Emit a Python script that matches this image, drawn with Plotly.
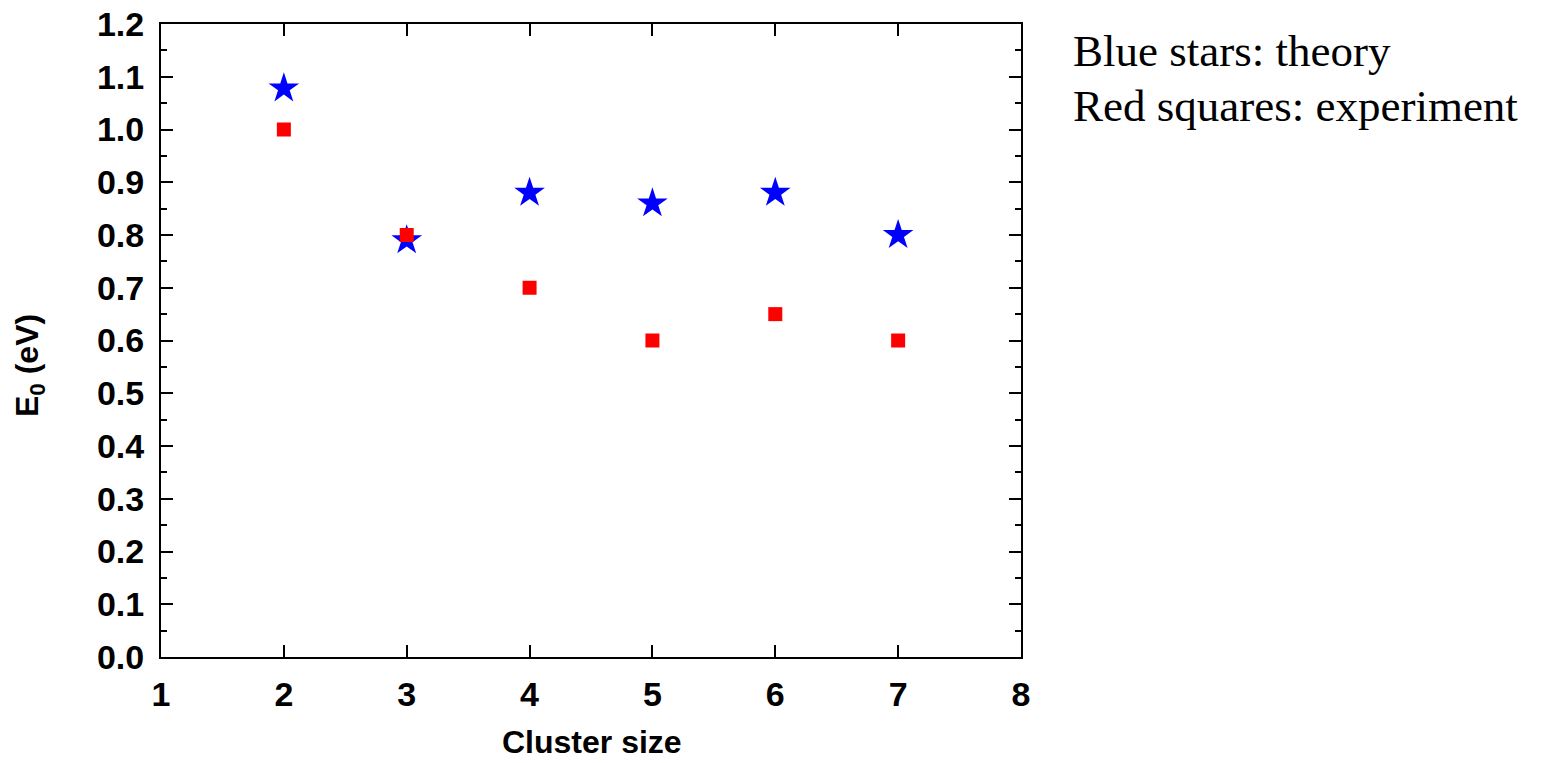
import plotly.graph_objects as go

cluster_size = [2, 3, 4, 5, 6, 7]
theory = [1.078, 0.79, 0.88, 0.86, 0.88, 0.80]
experiment = [1.00, 0.80, 0.70, 0.60, 0.65, 0.60]
notes = ["Blue stars: theory", "Red squares: experiment"]
x_title = "Cluster size"
y_title = "E<sub>0</sub> (eV)"

fig = go.Figure()
fig.add_trace(go.Scatter(x=cluster_size, y=theory, mode="markers",
                         marker=dict(symbol="star", size=23, color="#0000ff", line=dict(width=0)),
                         name="theory"))
fig.add_trace(go.Scatter(x=cluster_size, y=experiment, mode="markers",
                         marker=dict(symbol="square", size=14, color="#ff0000", line=dict(width=0)),
                         name="experiment"))

L, R, T, B = 161, 1552 - 1021, 24, 763 - 657
H = 763 - T - B
W = 1552 - L - R


def px(x):
    return (x - L) / W


def py(y):
    return (657 - y) / H


fig.update_layout(
    width=1552, height=763,
    margin=dict(l=L, r=R, t=T, b=B),
    plot_bgcolor="white", paper_bgcolor="white",
    showlegend=False,
    font=dict(family="Liberation Sans, Arial", color="black"),
)
fig.update_xaxes(range=[1, 8], dtick=1, tick0=1, showgrid=False, zeroline=False, automargin=False,
                 showline=True, linecolor="black", linewidth=2, mirror="ticks",
                 ticks="inside", ticklen=12, tickwidth=2, tickcolor="black",
                 ticklabelstandoff=6,
                 tickfont=dict(size=34, weight="bold"))
fig.update_yaxes(range=[0, 1.2], dtick=0.1, tick0=0, tickformat=".1f", showgrid=False, zeroline=False,
                 automargin=False,
                 showline=True, linecolor="black", linewidth=2, mirror="ticks",
                 ticks="inside", ticklen=12, tickwidth=2, tickcolor="black",
                 ticklabelstandoff=8,
                 tickfont=dict(size=34, weight="bold"),
                 minor=dict(dtick=0.05, ticks="inside", ticklen=6, tickwidth=2, tickcolor="black", showgrid=False))

fig.add_annotation(x=px(592), y=py(742), xref="paper", yref="paper", text=x_title,
                   showarrow=False, xanchor="center", yanchor="middle", borderpad=0,
                   font=dict(size=32, weight="bold", color="black"))
fig.add_annotation(x=px(29), y=py(366), xref="paper", yref="paper", text=y_title,
                   showarrow=False, xanchor="center", yanchor="middle", textangle=-90,
                   font=dict(size=32, weight="bold", color="black"))

for txt, yy in zip(notes, [51, 106]):
    fig.add_annotation(x=px(1071), y=py(yy), xref="paper", yref="paper",
                       text=txt, showarrow=False, xanchor="left", yanchor="middle",
                       font=dict(family="Liberation Serif, Times New Roman", size=45, color="black"))

fig.write_html("out.html")
